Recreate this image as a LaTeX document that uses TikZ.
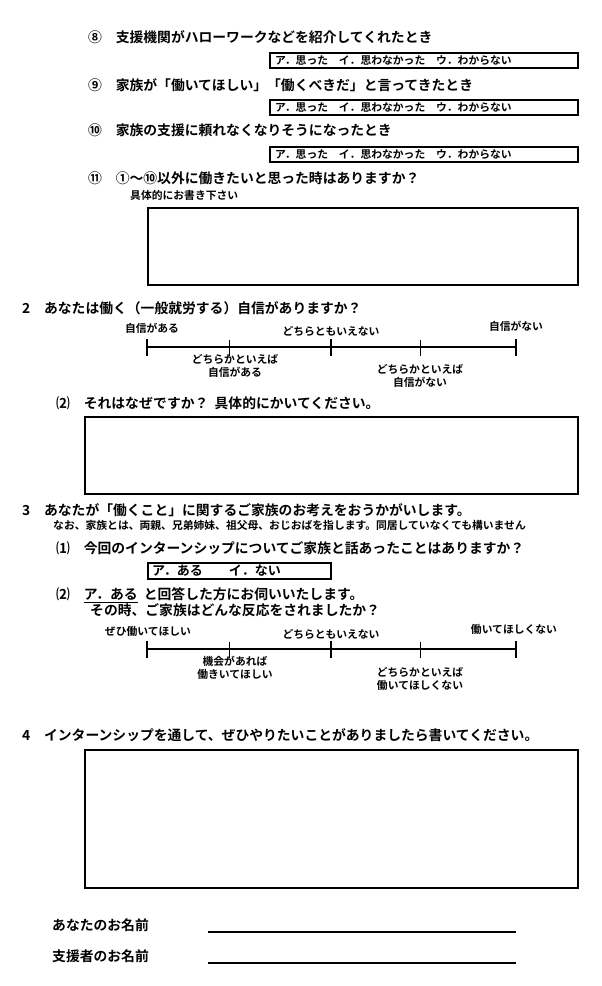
\documentclass[tikz,border=0pt]{standalone}
\usepackage{fontspec}
\setmainfont{Noto Sans CJK JP}[BoldFont={* Bold}]
\begin{document}
\begin{tikzpicture}[x=1pt,y=-1pt,
  q/.style={anchor=west,inner sep=0,font=\fontsize{13.8}{15}\selectfont\bfseries},
  s/.style={inner sep=0,font=\fontsize{10.8}{13}\selectfont\bfseries,align=center},
  bx/.style={draw,line width=1.2pt},
  ln/.style={line width=1.2pt}]
\useasboundingbox (0,0) rectangle (602,986);
\node[q] (n8) at (88,37) {⑧\quad 支援機関がハローワークなどを紹介してくれたとき};
\draw[bx] (270,53) rectangle (578,68);
\node[s,anchor=west] (a8) at (275,61) {ア．思った\quad イ．思わなかった\quad ウ．わからない};
\node[q] (n9) at (88,85) {⑨\quad 家族が「働いてほしい」「働くべきだ」と言ってきたとき};
\draw[bx] (270,100) rectangle (578,115);
\node[s,anchor=west] (a9) at (275,108) {ア．思った\quad イ．思わなかった\quad ウ．わからない};
\node[q] (n10) at (88,130) {⑩\quad 家族の支援に頼れなくなりそうになったとき};
\draw[bx] (270,147) rectangle (578,162);
\node[s,anchor=west] (a10) at (275,155) {ア．思った\quad イ．思わなかった\quad ウ．わからない};
\node[q] (n11) at (88,178) {⑪\quad ①〜⑩以外に働きたいと思った時はありますか？};
\node[s,anchor=west] (g) at (130,195) {具体的にお書き下さい};
\draw[bx] (148,208) rectangle (578,285);

\node[q] (n2) at (22,308) {2\quad あなたは働く（一般就労する）自信がありますか？};
\draw[ln] (147,347) -- (516,347);
\foreach \x in {147,331,516} \draw[ln] (\x,339) -- (\x,356);
\foreach \x in {229,420} \draw[thin] (\x,340) -- (\x,356);
\node[s] (l1) at (152,328) {自信がある};
\node[s] (l2) at (331,331) {どちらともいえない};
\node[s] (l3) at (516,326) {自信がない};
\node[s] (l4) at (235,366) {どちらかといえば\\自信がある};
\node[s] (l5) at (420,376) {どちらかといえば\\自信がない};
\node[q] (n22) at (56,403) {⑵\quad それはなぜですか？\ \ 具体的にかいてください。};
\draw[bx] (85,417) rectangle (578,494);

\node[q] (n3) at (22,510) {3\quad あなたが「働くこと」に関するご家族のお考えをおうかがいします。};
\node[s,anchor=west] (nt) at (53,525) {なお、家族とは、両親、兄弟姉妹、祖父母、おじおばを指します。同居していなくても構いません};
\node[q] (n31) at (56,548) {⑴\quad 今回のインターンシップについてご家族と話あったことはありますか？};
\draw[bx] (148,563) rectangle (331,579);
\node[q,font=\fontsize{13}{14}\selectfont\bfseries] (a31) at (152,571) {ア．ある\qquad イ．ない};
\node[q] (n32) at (56,595) {⑵\quad \underline{ア．ある}\ \ と回答した方にお伺いいたします。};
\node[q] (n32b) at (90,610) {その時、ご家族はどんな反応をされましたか？};
\draw[ln] (147,649) -- (516,649);
\foreach \x in {147,331,516} \draw[ln] (\x,641) -- (\x,658);
\foreach \x in {229,420} \draw[thin] (\x,642) -- (\x,658);
\node[s] (m1) at (148,631) {ぜひ働いてほしい};
\node[s] (m2) at (331,634) {どちらともいえない};
\node[s] (m3) at (514,629) {働いてほしくない};
\node[s] (m4) at (235,668) {機会があれば\\働きいてほしい};
\node[s] (m5) at (420,679) {どちらかといえば\\働いてほしくない};

\node[q] (n4) at (22,735) {4\quad インターンシップを通して、ぜひやりたいことがありましたら書いてください。};
\draw[bx] (85,750) rectangle (578,888);
\node[q] (nm1) at (52,925) {あなたのお名前};
\draw[ln] (208,932) -- (516,932);
\node[q] (nm2) at (52,956) {支援者のお名前};
\draw[ln] (208,963) -- (516,963);
\end{tikzpicture}
\end{document}
